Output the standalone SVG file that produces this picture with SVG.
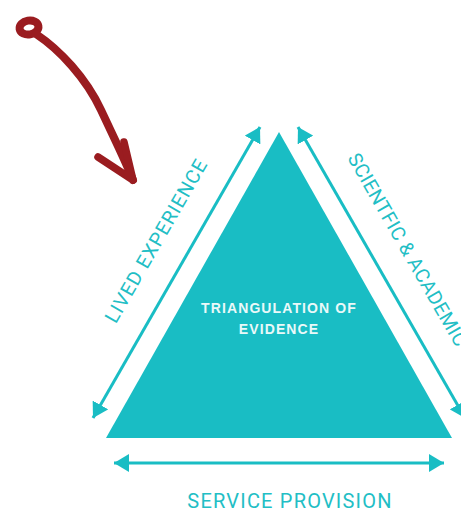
<svg xmlns="http://www.w3.org/2000/svg" width="461" height="512" viewBox="0 0 461 512">
<style>
.lbl{font-family:Roboto,"Liberation Sans",sans-serif;font-size:20px;fill:#22BEC5;letter-spacing:1.2px}
.rot{font-size:19.5px;letter-spacing:1px}
.tri{font-family:"Liberation Sans",Arial,sans-serif;font-weight:bold;font-size:14px;fill:#EAF9F9;letter-spacing:1.1px}
.conn{stroke:#19BDC4;stroke-width:3;fill:none}
.red{stroke:#9A1C20;fill:none;stroke-linecap:round;stroke-linejoin:round}
</style>
<defs>
<marker id="ah" markerUnits="userSpaceOnUse" markerWidth="16" markerHeight="18" refX="15" refY="9" orient="auto-start-reverse">
<path d="M0,0 L15,9 L0,18 z" fill="#19BDC4"/>
</marker>
</defs>
<rect width="461" height="512" fill="#FFFFFF"/>
<g id="pointer">
<ellipse cx="29" cy="27.5" rx="9.5" ry="7" transform="rotate(-10 29 27.5)" class="red" stroke-width="8"/>
<path d="M36,34 C60,50 86,78 101,110 S125,160 133,180" class="red" stroke-width="8"/>
<path d="M98,157 L133,180 L124,142" class="red" stroke-width="7.5"/>
</g>
<g id="triangle">
<polygon points="106,438 279,132 452,438" fill="#19BDC4"/>
<text class="tri" x="279" y="313" text-anchor="middle">TRIANGULATION OF</text>
<text class="tri" x="279" y="334" text-anchor="middle">EVIDENCE</text>
</g>
<g id="connectors">
<line class="conn" x1="93" y1="418" x2="260" y2="127" marker-start="url(#ah)" marker-end="url(#ah)"/>
<line class="conn" x1="298" y1="127" x2="465" y2="418" marker-start="url(#ah)" marker-end="url(#ah)"/>
<line class="conn" x1="114" y1="463" x2="444" y2="463" marker-start="url(#ah)" marker-end="url(#ah)"/>
</g>
<g id="lived-experience">
<text class="lbl rot" x="162" y="244" text-anchor="middle" transform="rotate(-60.1 162 244)">LIVED EXPERIENCE</text>
</g>
<g id="scientific-academic">
<text class="lbl rot" x="347" y="158" transform="rotate(60.1 347 158)" style="letter-spacing:0.3px">SCIENTFIC &amp; ACADEMIC</text>
</g>
<g id="service-provision">
<text class="lbl" x="290" y="508" text-anchor="middle">SERVICE PROVISION</text>
</g>
</svg>
